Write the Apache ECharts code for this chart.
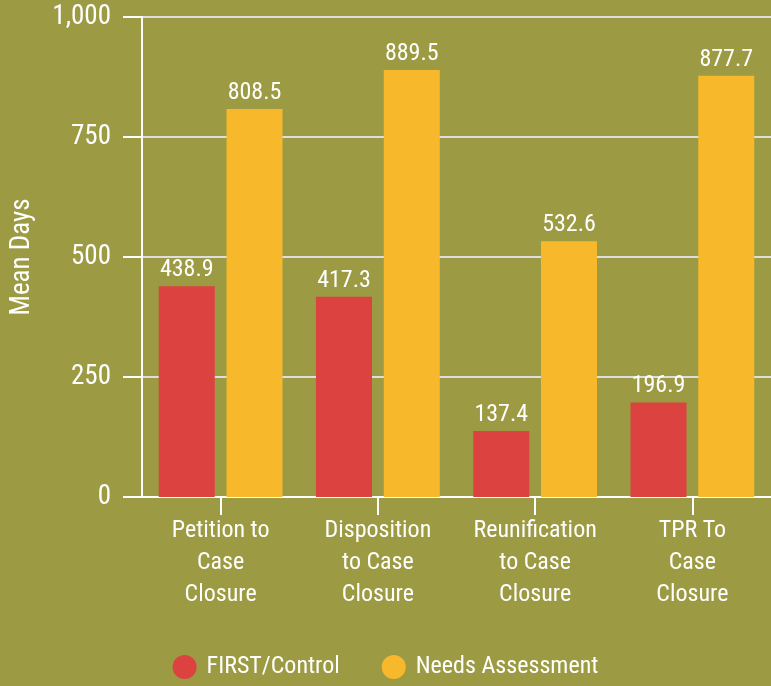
<!DOCTYPE html>
<html><head><meta charset="utf-8">
<script src="https://cdn.jsdelivr.net/npm/echarts@6/dist/echarts.min.js"></script>
<style>html,body{margin:0;padding:0;background:#9c9a42;}#c{width:771px;height:686px;}</style>
</head><body><div id="c"></div>
<script>
var categories = ["Petition to\nCase\nClosure", "Disposition\nto Case\nClosure", "Reunification\nto Case\nClosure", "TPR To\nCase\nClosure"];
var firstControl = [438.9, 417.3, 137.4, 196.9];
var needsAssessment = [808.5, 889.5, 532.6, 877.7];
var yTicks = [0, 250, 500, 750, 1000];

var FONT = '"Roboto Condensed", Roboto, sans-serif';
var chart = echarts.init(document.getElementById('c'));
var labelStyle = {show: true, position: 'top', distance: 4, color: '#fff', fontFamily: FONT, fontSize: 24,
  formatter: function (p) { return p.value.toFixed(1); }};
chart.setOption({
  backgroundColor: '#9c9a42',
  animation: false,
  textStyle: {fontFamily: FONT},
  grid: {left: 142, top: 17, bottom: 189, right: -5},
  legend: {
    bottom: 2, left: 'center', icon: 'circle', itemWidth: 24, itemHeight: 24, itemGap: 42,
    textStyle: {color: '#fff', fontFamily: FONT, fontSize: 24, padding: [0, 0, 0, 5]},
    data: ['FIRST/Control', 'Needs Assessment']
  },
  xAxis: {
    type: 'category', data: categories,
    axisLine: {lineStyle: {color: '#fff', width: 2}},
    axisTick: {show: true, length: 18, alignWithLabel: true, lineStyle: {color: '#fff', width: 2}},
    axisLabel: {color: '#fff', fontFamily: FONT, fontSize: 24, lineHeight: 32, margin: 18, interval: 0}
  },
  yAxis: {
    type: 'value', min: yTicks[0], max: yTicks[yTicks.length - 1], interval: 250,
    name: 'Mean Days', nameLocation: 'middle', nameGap: 106, nameRotate: 90,
    nameTextStyle: {color: '#fff', fontFamily: FONT, fontSize: 27},
    axisLine: {show: true, lineStyle: {color: '#fff', width: 2}},
    axisTick: {show: true, length: 19, lineStyle: {color: '#fff', width: 2}},
    axisLabel: {color: '#fff', fontFamily: FONT, fontSize: 27, margin: 31,
      formatter: function (v) { return v.toLocaleString('en-US'); }},
    splitLine: {lineStyle: {color: '#dedede', width: 2}}
  },
  series: [
    {name: 'FIRST/Control', type: 'bar', data: firstControl, barWidth: 56, barGap: '21%',
      itemStyle: {color: '#dc4240'}, label: labelStyle},
    {name: 'Needs Assessment', type: 'bar', data: needsAssessment, barWidth: 56,
      itemStyle: {color: '#f7b92b'}, label: labelStyle}
  ]
});
</script></body></html>
